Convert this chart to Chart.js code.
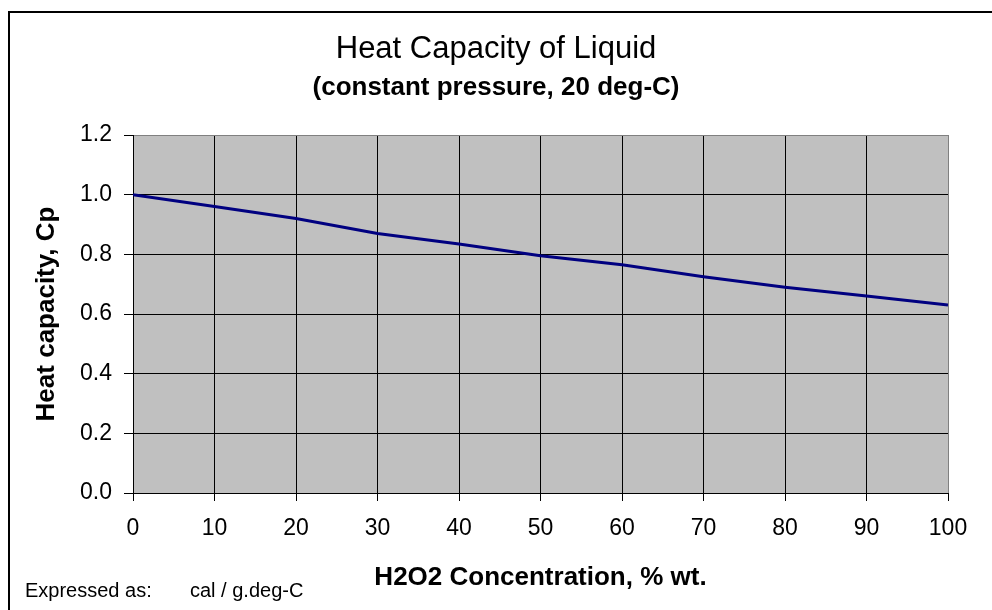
<!DOCTYPE html>
<html>
<head>
<meta charset="utf-8">
<script src="https://cdn.jsdelivr.net/npm/chart.js@4/dist/chart.umd.min.js"></script>
<style>
  html, body { margin: 0; padding: 0; background: #fff; }
  #wrap { width: 992px; height: 610px; }
</style>
</head>
<body>
<div id="wrap"><canvas id="cpChart" width="992" height="610"></canvas></div>
<script>
// H2O2 concentration (% wt.) and heat capacity Cp (cal / g.deg-C)
const concentration = [0, 10, 20, 30, 40, 50, 60, 70, 80, 90, 100];
const heatCapacity = [1.00, 0.96, 0.92, 0.87, 0.835, 0.795, 0.765, 0.725, 0.69, 0.66, 0.63];
const xTicks = [0, 10, 20, 30, 40, 50, 60, 70, 80, 90, 100];
const yTicks = [0.0, 0.2, 0.4, 0.6, 0.8, 1.0, 1.2];

const FONT = "'Liberation Sans', Arial, sans-serif";

// grey plot background, outer frame and footnote
const decor = {
  id: 'decor',
  beforeDraw(chart) {
    const { ctx, chartArea: a } = chart;
    ctx.save();
    ctx.fillStyle = '#C0C0C0';
    ctx.fillRect(a.left, a.top, a.right - a.left, a.bottom - a.top);
    ctx.restore();
  },
  afterDraw(chart) {
    const { ctx } = chart;
    ctx.save();
    ctx.fillStyle = '#000';
    ctx.fillRect(8, 11, 2, 610);
    ctx.fillRect(8, 11, 984, 2);
    ctx.font = '20px ' + FONT;
    ctx.textBaseline = 'alphabetic';
    ctx.fillText('Expressed as:', 25, 597);
    ctx.fillText('cal / g.deg-C', 190, 597);
    ctx.restore();
  }
};

new Chart(document.getElementById('cpChart'), {
  type: 'line',
  data: {
    datasets: [{
      data: concentration.map((x, i) => ({ x: x, y: heatCapacity[i] })),
      borderColor: '#000080',
      borderWidth: 3,
      pointRadius: 0,
      tension: 0,
      fill: false
    }]
  },
  options: {
    responsive: false,
    animation: false,
    layout: { padding: 0 },
    plugins: {
      legend: { display: false },
      tooltip: { enabled: false },
      title: {
        display: true,
        text: 'Heat Capacity of Liquid',
        color: '#000',
        font: { family: FONT, size: 31, weight: 'normal' },
        padding: { top: 30.4, bottom: 0 }
      },
      subtitle: {
        display: true,
        text: '(constant pressure, 20 deg-C)',
        color: '#000',
        font: { family: FONT, size: 26, weight: 'bold' },
        padding: { top: 4.8, bottom: 31.4 }
      }
    },
    scales: {
      x: {
        type: 'linear',
        min: 0,
        max: 100,
        afterBuildTicks(scale) { scale.ticks = xTicks.map(v => ({ value: v })); },
        afterFit(scale) { scale.height = 117; },
        border: { color: '#000', width: 1 },
        grid: {
          color: c => (c.tick && c.tick.value === 100 ? '#808080' : '#000'),
          tickColor: '#000',
          lineWidth: 1,
          tickLength: 8
        },
        ticks: {
          color: '#000',
          padding: 14,
          maxRotation: 0,
          font: { family: FONT, size: 23 }
        },
        title: {
          display: true,
          text: 'H2O2 Concentration, % wt.',
          color: '#000',
          font: { family: FONT, size: 26, weight: 'bold' },
          padding: { top: 0, bottom: 16.4 }
        }
      },
      y: {
        min: 0,
        max: 1.2,
        afterBuildTicks(scale) { scale.ticks = yTicks.map(v => ({ value: v })); },
        afterFit(scale) { scale.width = 133; },
        border: { color: '#000', width: 1 },
        grid: {
          color: c => (c.tick && Math.abs(c.tick.value - 1.2) < 1e-6 ? '#808080' : '#000'),
          tickColor: '#000',
          lineWidth: 1,
          tickLength: 9
        },
        ticks: {
          color: '#000',
          padding: 12,
          font: { family: FONT, size: 23 },
          callback: v => v.toFixed(1)
        },
        title: {
          display: true,
          text: 'Heat capacity, Cp',
          color: '#000',
          font: { family: FONT, size: 26, weight: 'bold' },
          padding: { top: 31.4, bottom: 0 }
        }
      },
      // empty right-hand box that keeps the space right of the plot
      yRight: {
        position: 'right',
        min: 0,
        max: 1.2,
        afterFit(scale) { scale.width = 44; },
        border: { display: false },
        grid: { display: false },
        ticks: { display: false }
      }
    }
  },
  plugins: [decor]
});
</script>
</body>
</html>
